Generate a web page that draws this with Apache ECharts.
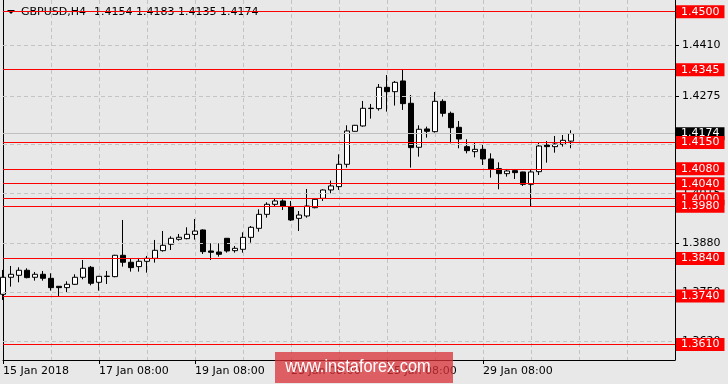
<!DOCTYPE html>
<html>
<head>
<meta charset="utf-8">
<script src="https://cdn.jsdelivr.net/npm/echarts@6/dist/echarts.min.js"></script>
<style>
html,body{margin:0;padding:0;background:#e8e8e8;}
#chart{width:728px;height:384px;}
</style>
</head>
<body>
<div id="chart"></div>
<script>
// ---- data ----
const symbolTitle = 'GBPUSD,H4';
const lastOHLC = ['1.4154', '1.4183', '1.4135', '1.4174'];

const categories = [
 '15 Jan 08:00','15 Jan 12:00','15 Jan 16:00','15 Jan 20:00',
 '16 Jan 00:00','16 Jan 04:00','16 Jan 08:00','16 Jan 12:00','16 Jan 16:00','16 Jan 20:00',
 '17 Jan 00:00','17 Jan 04:00','17 Jan 08:00','17 Jan 12:00','17 Jan 16:00','17 Jan 20:00',
 '18 Jan 00:00','18 Jan 04:00','18 Jan 08:00','18 Jan 12:00','18 Jan 16:00','18 Jan 20:00',
 '19 Jan 00:00','19 Jan 04:00','19 Jan 08:00','19 Jan 12:00','19 Jan 16:00','19 Jan 20:00',
 '22 Jan 00:00','22 Jan 04:00','22 Jan 08:00','22 Jan 12:00','22 Jan 16:00','22 Jan 20:00',
 '23 Jan 00:00','23 Jan 04:00','23 Jan 08:00','23 Jan 12:00','23 Jan 16:00','23 Jan 20:00',
 '24 Jan 00:00','24 Jan 04:00','24 Jan 08:00','24 Jan 12:00','24 Jan 16:00','24 Jan 20:00',
 '25 Jan 00:00','25 Jan 04:00','25 Jan 08:00','25 Jan 12:00','25 Jan 16:00','25 Jan 20:00',
 '26 Jan 00:00','26 Jan 04:00','26 Jan 08:00','26 Jan 12:00','26 Jan 16:00','26 Jan 20:00',
 '29 Jan 00:00','29 Jan 04:00','29 Jan 08:00','29 Jan 12:00','29 Jan 16:00','29 Jan 20:00',
 '30 Jan 00:00','30 Jan 04:00','30 Jan 08:00','30 Jan 12:00','30 Jan 16:00','30 Jan 20:00',
 '31 Jan 00:00','31 Jan 04:00'
];
// empty future slots on the right of the last bar
const futureSlots = ['','','','','','','','','','','','',''];

// [open, close, low, high]
const ohlc = [
 [1.37444,1.37899,1.37293,1.38095],
 [1.37899,1.37979,1.37649,1.38201],
 [1.37952,1.38086,1.37765,1.38166],
 [1.38086,1.37890,1.37872,1.38139],
 [1.37899,1.37979,1.37809,1.38041],
 [1.37979,1.37872,1.37809,1.38068],
 [1.37872,1.37622,1.37542,1.38006],
 [1.37658,1.37622,1.37399,1.37662],
 [1.37622,1.37711,1.37489,1.37792],
 [1.37711,1.37899,1.37694,1.37979],
 [1.37899,1.38139,1.37845,1.38362],
 [1.38166,1.37738,1.37685,1.38201],
 [1.37765,1.37925,1.37542,1.37935],
 [1.37920,1.37930,1.37720,1.38068],
 [1.37916,1.38487,1.37899,1.38500],
 [1.38487,1.38300,1.38184,1.39431],
 [1.38300,1.38157,1.38050,1.38389],
 [1.38184,1.38326,1.38050,1.38415],
 [1.38326,1.38406,1.38023,1.38469],
 [1.38406,1.38620,1.38291,1.38897],
 [1.38611,1.38754,1.38585,1.39137],
 [1.38781,1.38941,1.38629,1.38995],
 [1.38914,1.38968,1.38879,1.39057],
 [1.38932,1.39048,1.38914,1.39235],
 [1.39045,1.39135,1.38905,1.39458],
 [1.39164,1.38584,1.38522,1.39181],
 [1.38602,1.38567,1.38362,1.38807],
 [1.38575,1.38513,1.38451,1.38807],
 [1.38941,1.38602,1.38558,1.38950],
 [1.38611,1.38673,1.38558,1.38736],
 [1.38647,1.38967,1.38558,1.39101],
 [1.38967,1.39235,1.38825,1.39270],
 [1.39208,1.39582,1.39119,1.39716],
 [1.39582,1.39850,1.39493,1.39903],
 [1.39850,1.39939,1.39787,1.39992],
 [1.39939,1.39805,1.39698,1.39983],
 [1.39787,1.39431,1.39404,1.39939],
 [1.39475,1.39564,1.39137,1.39671],
 [1.39538,1.39805,1.39493,1.40260],
 [1.39760,1.39983,1.39743,1.40010],
 [1.40010,1.40233,1.39939,1.40251],
 [1.40234,1.40341,1.40145,1.40484],
 [1.40323,1.40920,1.40234,1.41187],
 [1.40920,1.41811,1.40831,1.41963],
 [1.41802,1.41963,1.41795,1.41972],
 [1.41945,1.42417,1.41927,1.42613],
 [1.42420,1.42410,1.42141,1.42533],
 [1.42408,1.42978,1.42355,1.43067],
 [1.42978,1.42862,1.42328,1.43308],
 [1.42862,1.43112,1.42490,1.43148],
 [1.43148,1.42542,1.42373,1.43468],
 [1.42551,1.41366,1.40831,1.42773],
 [1.41375,1.41856,1.41125,1.41963],
 [1.41865,1.41802,1.41633,1.41927],
 [1.41793,1.42604,1.41767,1.42854],
 [1.42604,1.42283,1.42194,1.42658],
 [1.42283,1.41900,1.41481,1.42328],
 [1.41909,1.41597,1.41348,1.42078],
 [1.41392,1.41285,1.41213,1.41588],
 [1.41258,1.41320,1.41106,1.41499],
 [1.41320,1.41062,1.40902,1.41436],
 [1.41062,1.40786,1.40563,1.41213],
 [1.40804,1.40670,1.40251,1.40973],
 [1.40670,1.40741,1.40590,1.40795],
 [1.40750,1.40697,1.40527,1.40786],
 [1.40715,1.40385,1.40340,1.40724],
 [1.40385,1.40715,1.39788,1.40768],
 [1.40723,1.41409,1.40634,1.41499],
 [1.41436,1.41392,1.40964,1.41543],
 [1.41392,1.41463,1.41231,1.41677],
 [1.41454,1.41561,1.41392,1.41703],
 [1.4154,1.4174,1.4135,1.4183]
];

// horizontal red levels
const levels = [1.4500, 1.4345, 1.4150, 1.4080, 1.4040, 1.4000, 1.3980, 1.3840, 1.3740, 1.3610];
// current bid
const bidPrice = 1.4174;
// price grid / tick labels
const gridValues = [1.4410, 1.4275, 1.4145, 1.4015, 1.3880, 1.3750, 1.3620];
// time axis tick labels
const xTickCats = ['15 Jan 08:00','17 Jan 08:00','19 Jan 08:00','23 Jan 08:00','25 Jan 08:00','29 Jan 08:00'];
const xTickLabels = ['15 Jan 2018','17 Jan 08:00','19 Jan 08:00','23 Jan 08:00','25 Jan 08:00','29 Jan 08:00'];

const watermark = 'www.instaforex.com';

// ---- chart ----
const FONT = 'DejaVu Sans';
const chart = echarts.init(document.getElementById('chart'), null, {renderer: 'canvas'});
const yMin = 1.35687, yMax = 1.45313;

const option = {
  animation: false,
  backgroundColor: '#e8e8e8',
  grid: {left: 3, right: 53, top: 0, bottom: 24, containLabel: false},
  xAxis: {
    type: 'category',
    data: categories.concat(futureSlots),
    boundaryGap: false,
    axisLine: {show: true, lineStyle: {color: '#000', width: 1}},
    axisTick: {
      show: true, length: 4, lineStyle: {color: '#000'},
      interval: (i, v) => xTickCats.indexOf(v) >= 0
    },
    axisLabel: {
      show: true, align: 'left', margin: 6, color: '#000',
      fontFamily: FONT, fontSize: 11,
      interval: (i, v) => xTickCats.indexOf(v) >= 0,
      formatter: (v) => { const k = xTickCats.indexOf(v); return k >= 0 ? xTickLabels[k] : ''; }
    },
    splitLine: {
      show: true,
      interval: (i) => i > 0 && i % 6 === 0,
      lineStyle: {color: '#c4c4c4', type: [4, 3], width: 1}
    }
  },
  yAxis: [{
    type: 'value', position: 'right', min: yMin, max: yMax, scale: true,
    axisLine: {show: true, lineStyle: {color: '#000', width: 1}},
    axisTick: {show: true, length: 4, customValues: gridValues, lineStyle: {color: '#000'}},
    axisLabel: {
      show: true, customValues: gridValues, margin: 7, color: '#000',
      fontFamily: FONT, fontSize: 11,
      formatter: (v) => v.toFixed(4)
    },
    splitLine: {show: false}
  }, {
    type: 'value', position: 'left', min: yMin, max: yMax, scale: true,
    axisLine: {show: true, onZero: false, lineStyle: {color: '#000', width: 1}},
    axisTick: {show: false}, axisLabel: {show: false}, splitLine: {show: false}
  }],
  series: [
    {
      type: 'line', data: [], z: 1, silent: true,
      markLine: {
        silent: true, symbol: ['none', 'none'], animation: false, precision: 5,
        label: {show: false},
        lineStyle: {color: '#c4c4c4', type: [4, 3], width: 1},
        data: gridValues.map(v => ({yAxis: v}))
      }
    },
    {
      type: 'candlestick', data: ohlc, z: 3, barWidth: 5, clip: true,
      itemStyle: {color: '#ffffff', color0: '#000000', borderColor: '#000000', borderColor0: '#000000', borderWidth: 1}
    },
    {
      type: 'line', data: [], z: 4, silent: true,
      markLine: {
        silent: true, symbol: ['none', 'none'], animation: false, precision: 5,
        lineStyle: {color: '#c0c0c0', type: 'solid', width: 1},
        label: {
          show: true, position: 'end', distance: 1,
          backgroundColor: '#000', color: '#fff', fontFamily: FONT, fontSize: 11,
          lineHeight: 12, padding: [1, 5, 0, 5],
          formatter: (p) => p.value.toFixed(4)
        },
        data: [{yAxis: bidPrice}]
      }
    },
    {
      type: 'line', data: [], z: 5, silent: true,
      markLine: {
        silent: true, symbol: ['none', 'none'], animation: false, precision: 5,
        lineStyle: {color: '#ff0000', type: 'solid', width: 1},
        label: {
          show: true, position: 'end', distance: 1,
          backgroundColor: '#ff0000', color: '#fff', fontFamily: FONT, fontSize: 11,
          lineHeight: 12, padding: [1, 5, 0, 5],
          formatter: (p) => p.value.toFixed(4)
        },
        data: levels.map(v => ({yAxis: v}))
      }
    }
  ],
  graphic: [
    {type: 'polygon', z: 0, shape: {points: [[7, 10], [15, 10], [11, 14]]}, style: {fill: '#000'}},
    {type: 'text', z: 0, x: 21, y: 12.5, style: {text: symbolTitle, fill: '#000', font: '11px "DejaVu Sans"', verticalAlign: 'middle'}},
    {type: 'text', z: 0, x: 94, y: 12.5, style: {text: lastOHLC.join(' '), fill: '#000', font: '11px "DejaVu Sans"', verticalAlign: 'middle'}},
    {type: 'rect', z: 100, shape: {x: 275, y: 352, width: 178, height: 31}, style: {fill: 'rgba(217,50,56,0.75)'}},
    {type: 'text', z: 101, x: 358, y: 367, scaleX: 0.86, originX: 0, originY: 0,
     style: {text: watermark, fill: '#fff', font: '19px "Liberation Sans", sans-serif', align: 'center', verticalAlign: 'middle'}}
  ]
};
chart.setOption(option);
</script>
</body>
</html>
